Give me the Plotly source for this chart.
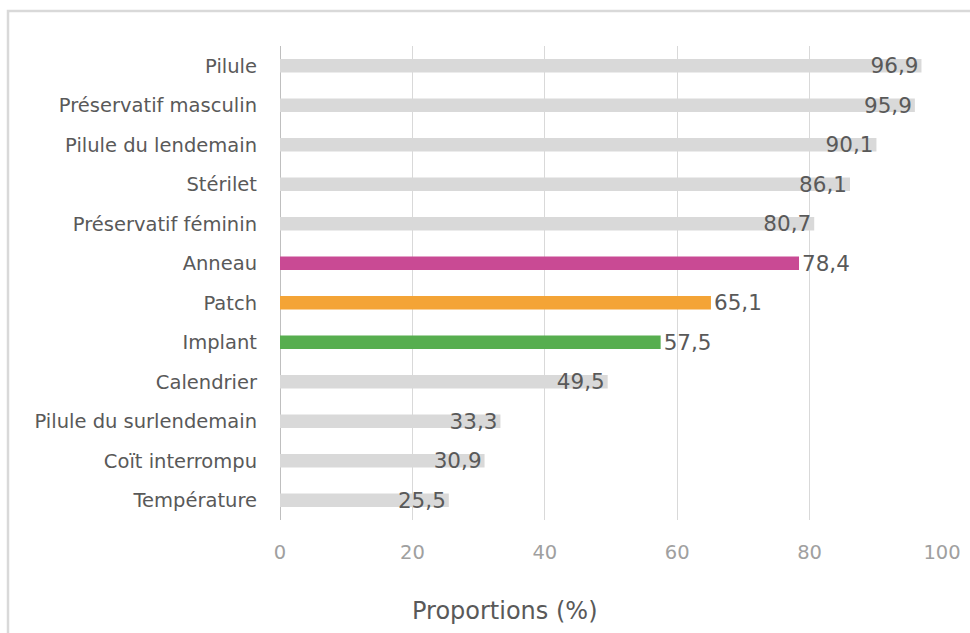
import plotly.graph_objects as go

categories = ["Pilule", "Préservatif masculin", "Pilule du lendemain", "Stérilet",
              "Préservatif féminin", "Anneau", "Patch", "Implant", "Calendrier",
              "Pilule du surlendemain", "Coït interrompu", "Température"]
values = [96.9, 95.9, 90.1, 86.1, 80.7, 78.4, 65.1, 57.5, 49.5, 33.3, 30.9, 25.5]
bar_colors = ["#D9D9D9", "#D9D9D9", "#D9D9D9", "#D9D9D9", "#D9D9D9",
              "#C94A94", "#F4A436", "#57AE4F",
              "#D9D9D9", "#D9D9D9", "#D9D9D9", "#D9D9D9"]
highlighted = ["Anneau", "Patch", "Implant"]
x_ticks = [0, 20, 40, 60, 80, 100]

labels = [f"{v:.1f}".replace(".", ",") for v in values]
positions = ["outside" if c in highlighted else "inside" for c in categories]

FONT = "DejaVu Sans"
fig = go.Figure(go.Bar(
    x=values, y=categories, orientation="h",
    marker=dict(color=bar_colors, line=dict(width=0)),
    width=0.34,
    text=labels, textposition=positions, insidetextanchor="end",
    constraintext="none",
    textfont=dict(family=FONT, size=21.5, color="#595959"),
    cliponaxis=False,
))

L, R, T, B = 280, 28, 46, 113
fig.update_layout(
    width=970, height=633,
    margin=dict(l=L, r=R, t=T, b=B, autoexpand=False),
    paper_bgcolor="white", plot_bgcolor="white",
    showlegend=False,
    font=dict(family=FONT, color="#595959"),
    xaxis=dict(range=[0, 100], tickvals=x_ticks, showgrid=True, gridcolor="#D9D9D9",
               gridwidth=1, zeroline=True, zerolinecolor="#BFBFBF", zerolinewidth=1,
               tickfont=dict(family=FONT, size=19.5, color="#A0A0A0"),
               ticklabelstandoff=18, fixedrange=True, automargin=False),
    yaxis=dict(autorange="reversed", showgrid=False, ticks="",
               tickfont=dict(family=FONT, size=19.5, color="#595959"),
               ticklabelstandoff=22, automargin=False),
    annotations=[dict(text="Proportions (%)", xref="paper", yref="paper",
                      x=(505 - L) / (970 - L - R), y=(633 - B - 611) / (633 - T - B),
                      xanchor="center", yanchor="middle", showarrow=False,
                      font=dict(family=FONT, size=24, color="#595959"))],
    shapes=[dict(type="rect", xref="paper", yref="paper",
                 x0=(8 - L) / (970 - L - R), x1=(985 - L) / (970 - L - R),
                 y0=(633 - B - 650) / (633 - T - B), y1=(633 - B - 11) / (633 - T - B),
                 line=dict(color="#D9D9D9", width=2.5), layer="below")],
)

fig.write_html("out.html")
